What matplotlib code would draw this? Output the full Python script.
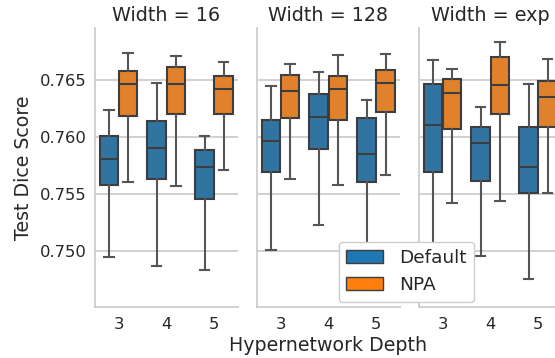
import matplotlib
matplotlib.use("Agg")
import matplotlib.pyplot as plt
from matplotlib.patches import Patch

# ---- data ----
widths = ["16", "128", "exp"]
depths = ["3", "4", "5"]
hues = ["Default", "NPA"]

# Default series, per width: values over depths 3,4,5
def_whislo = {"16": [0.7495, 0.7487, 0.7484], "128": [0.7501, 0.7523, 0.7485], "exp": [0.7478, 0.7496, 0.7476]}
def_q1     = {"16": [0.7558, 0.7563, 0.7546], "128": [0.7570, 0.7590, 0.7561], "exp": [0.7570, 0.7562, 0.7551]}
def_med    = {"16": [0.7581, 0.7591, 0.7574], "128": [0.7597, 0.7618, 0.7585], "exp": [0.7611, 0.7595, 0.7574]}
def_q3     = {"16": [0.7601, 0.7614, 0.7589], "128": [0.7615, 0.7638, 0.7617], "exp": [0.7647, 0.7609, 0.7609]}
def_whishi = {"16": [0.7624, 0.7648, 0.7601], "128": [0.7645, 0.7657, 0.7633], "exp": [0.7668, 0.7627, 0.7647]}

# NPA series
npa_whislo = {"16": [0.7561, 0.7557, 0.7571], "128": [0.7563, 0.7558, 0.7567], "exp": [0.7542, 0.7544, 0.7551]}
npa_q1     = {"16": [0.7619, 0.7620, 0.7620], "128": [0.7617, 0.7615, 0.7622], "exp": [0.7607, 0.7620, 0.7609]}
npa_med    = {"16": [0.7647, 0.7647, 0.7642], "128": [0.7641, 0.7642, 0.7648], "exp": [0.7639, 0.7646, 0.7635]}
npa_q3     = {"16": [0.7658, 0.7662, 0.7654], "128": [0.7655, 0.7654, 0.7659], "exp": [0.7651, 0.7670, 0.7649]}
npa_whishi = {"16": [0.7674, 0.7671, 0.7666], "128": [0.7664, 0.7672, 0.7673], "exp": [0.7660, 0.7684, 0.7669]}

yticks = [0.750, 0.755, 0.760, 0.765]

# ---- style ----
W, H = 555, 358
DPI = 100
box_colors = ["#3274a1", "#e1812c"]
legend_colors = ["#1f77b4", "#ff7f0e"]
edge = "#3d3d3d"
whisk = "#555555"
grid_c = "#cccccc"
text_c = "#262626"

fig = plt.figure(figsize=(W / DPI, H / DPI), dpi=DPI)
fig.patch.set_facecolor("white")

ax_left = [94.7, 256.7, 418.7]
ax_w = 143.3
ax_top, ax_bot = 28.3, 307.3

series = [
    (def_whislo, def_q1, def_med, def_q3, def_whishi),
    (npa_whislo, npa_q1, npa_med, npa_q3, npa_whishi),
]
offsets = [-0.2, 0.2]

axes = []
for i, w in enumerate(widths):
    ax = fig.add_axes([ax_left[i] / W, 1 - ax_bot / H, ax_w / W, (ax_bot - ax_top) / H])
    axes.append(ax)
    for h, (wl, q1, md, q3, wh) in enumerate(series):
        stats = []
        for j in range(len(depths)):
            stats.append(dict(whislo=wl[w][j], q1=q1[w][j], med=md[w][j],
                              q3=q3[w][j], whishi=wh[w][j], fliers=[]))
        pos = [j + offsets[h] for j in range(len(depths))]
        ax.bxp(stats, positions=pos, widths=0.39, patch_artist=True,
               showfliers=False, manage_ticks=False,
               boxprops=dict(facecolor=box_colors[h], edgecolor=edge, linewidth=1.5),
               medianprops=dict(color=edge, linewidth=1.5),
               whiskerprops=dict(color=whisk, linewidth=1.5),
               capprops=dict(color=whisk, linewidth=1.5),
               capwidths=0.195, zorder=2)
    ax.set_xlim(-0.5, 2.5)
    ax.set_ylim(0.74509, 0.76956)
    ax.set_xticks(range(len(depths)))
    ax.set_xticklabels(depths)
    ax.set_yticks(yticks)
    ax.yaxis.grid(True, color=grid_c, linewidth=1.25, zorder=0)
    ax.xaxis.grid(False)
    ax.set_axisbelow(True)
    for s in ["top", "right"]:
        ax.spines[s].set_visible(False)
    for s in ["left", "bottom"]:
        ax.spines[s].set_color(grid_c)
        ax.spines[s].set_linewidth(1.25)
    ax.tick_params(axis="x", length=0, pad=7.2, labelsize=11.8, labelcolor=text_c)
    ax.tick_params(axis="y", length=0, pad=6.0, labelsize=11.8, labelcolor=text_c)
    ax.set_yticklabels([f"{t:.3f}" for t in yticks])
    if i > 0:
        ax.tick_params(axis="y", labelleft=False)
    ax.set_title(f"Width = {w}", fontsize=13.8, color=text_c, pad=5.5)

axes[0].set_ylabel("Test Dice Score", fontsize=13.7, color=text_c, labelpad=5)
axes[1].set_xlabel("Hypernetwork Depth", fontsize=13.7, color=text_c, labelpad=3)

handles = [Patch(facecolor=legend_colors[k], edgecolor=edge, linewidth=1.0, label=hues[k])
           for k in range(len(hues))]
leg = fig.legend(handles=handles, loc="upper left",
                 bbox_to_anchor=(338.7 / W, 1 - 241.7 / H), borderaxespad=0,
                 fontsize=13.3, frameon=True, fancybox=True, framealpha=1.0,
                 edgecolor=grid_c, handletextpad=0.85)
for t in leg.get_texts():
    t.set_color(text_c)

fig.savefig("out.png", dpi=DPI)
